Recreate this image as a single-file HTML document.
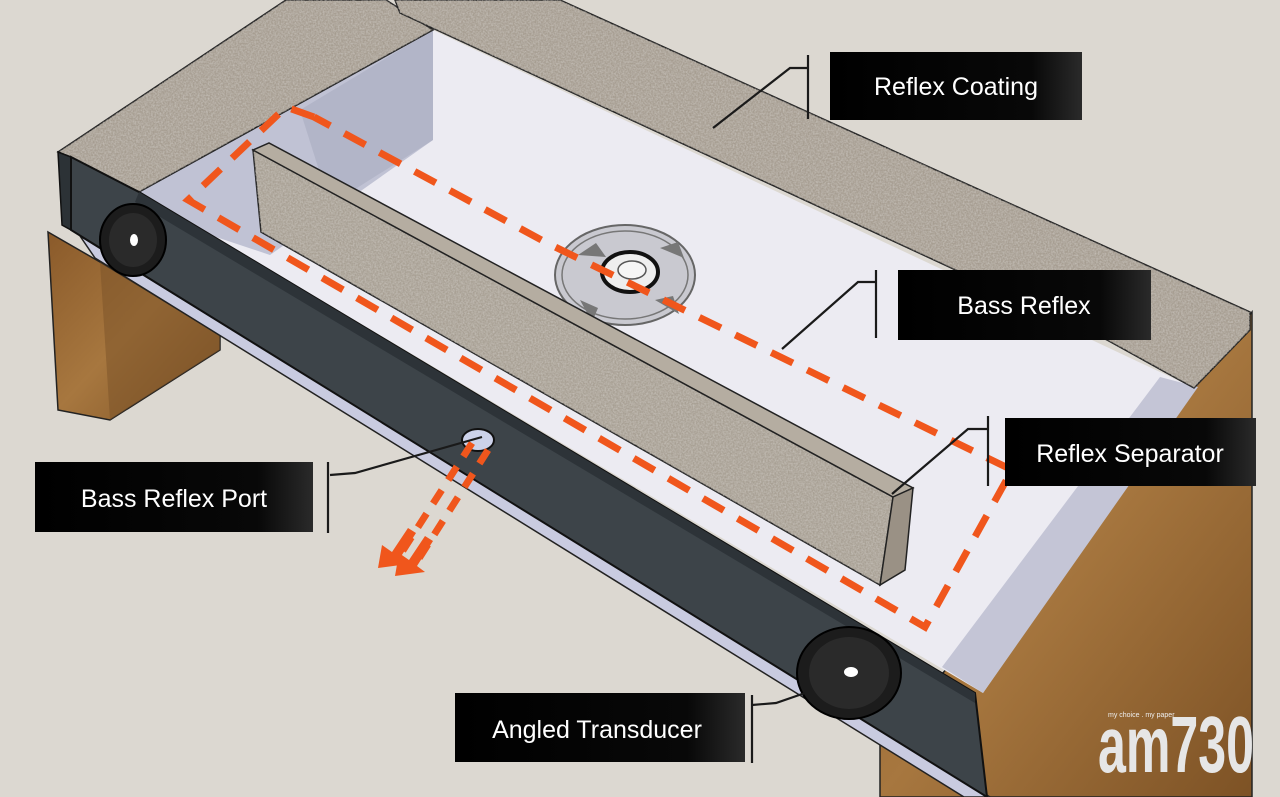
<!DOCTYPE html>
<html><head><meta charset="utf-8"><style>
html,body{margin:0;padding:0;background:#dcd8d1;}
svg{display:block}
text{font-family:"Liberation Sans",sans-serif}
</style></head><body>
<svg width="1280" height="797" viewBox="0 0 1280 797" xmlns="http://www.w3.org/2000/svg">
<defs>
<filter id="gr" x="0" y="0" width="100%" height="100%">
<feTurbulence type="fractalNoise" baseFrequency="0.6" numOctaves="2" seed="3"/>
<feColorMatrix type="matrix" values="0 0 0 0 0.62  0 0 0 0 0.59  0 0 0 0 0.55  0 0 0 1.2 -0.35"/>
<feComposite in2="SourceGraphic" operator="in"/>
</filter>
<linearGradient id="wood" x1="0" y1="0" x2="1" y2="1">
<stop offset="0" stop-color="#8a5a2a"/><stop offset="0.5" stop-color="#a7773f"/><stop offset="1" stop-color="#7d5225"/>
</linearGradient>
<linearGradient id="lbl" x1="0" y1="0" x2="1" y2="0">
<stop offset="0" stop-color="#000"/><stop offset="0.8" stop-color="#080808"/><stop offset="1" stop-color="#2a2a2a"/>
</linearGradient>
</defs>
<rect width="1280" height="797" fill="#dcd8d1"/>

<!-- left leg -->
<polygon points="48,232 100,262 220,335 220,350 110,420 58,410" fill="url(#wood)" stroke="#222" stroke-width="1.5"/>
<polygon points="100,262 220,335 220,350 110,420" fill="#7a5227" opacity="0.5"/>
<!-- right leg -->
<polygon points="1190,390 1252,312 1252,797 880,797 880,745" fill="url(#wood)" stroke="#222" stroke-width="1.5"/>

<!-- lavender strip under panel -->
<polygon points="80,236 990,797 964,797 95,258" fill="#c9cbe0" stroke="#222" stroke-width="1.5"/>

<!-- floor -->
<polygon points="139,192 433,30 1194,388 983,693" fill="#ecebf2"/>
<!-- left inner wall -->
<polygon points="139,192 433,30 433,140 270,255 180,225" fill="#c0c2d4"/>
<polygon points="300,110 433,30 433,140 330,205" fill="#a9abbf" opacity="0.6"/>
<!-- right inner wall -->
<polygon points="1160,377 1198,387 983,693 942,667" fill="#c4c5d6"/>

<!-- left granite -->
<polygon points="58,152 286,0 386,0 433,30 139,192 71,157" fill="#a69d91" stroke="#222" stroke-width="1.5"/>
<polygon points="58,152 286,0 386,0 433,30 139,192 71,157" filter="url(#gr)" fill="#000"/>
<!-- rear granite -->
<polygon points="395,0 560,0 1250,312 1250,330 1194,388 1107,340 400,13" fill="#a69d91" stroke="#222" stroke-width="1.5"/>
<polygon points="395,0 560,0 1250,312 1250,330 1194,388 1107,340 400,13" filter="url(#gr)" fill="#000"/>

<!-- center speaker -->
<ellipse cx="625" cy="275" rx="70" ry="50" fill="#c9c9d0" stroke="#666" stroke-width="2"/>
<ellipse cx="625" cy="275" rx="63" ry="44" fill="none" stroke="#777" stroke-width="1.5"/>
<ellipse cx="630" cy="272" rx="28" ry="20" fill="#eee" stroke="#111" stroke-width="4"/>
<ellipse cx="632" cy="270" rx="14" ry="9" fill="#f5f5f5" stroke="#555" stroke-width="1.5"/>
<path d="M578,255 l18,-12 l10,14 z M660,248 l18,-6 l6,16 z M580,300 l18,8 l-6,14 z M655,300 l18,-4 l6,18 z" fill="#777"/>

<!-- separator -->
<polygon points="253,150 893,497 880,585 261,232" fill="#a8a094" stroke="#222" stroke-width="1.5"/>
<polygon points="253,150 893,497 880,585 261,232" filter="url(#gr)" fill="#000"/>
<polygon points="253,150 269,143 913,488 893,497" fill="#b5ada1" stroke="#222" stroke-width="1.5"/>
<polygon points="893,497 913,488 905,570 880,585" fill="#9a9185" stroke="#222" stroke-width="1.5"/>

<!-- dark front panel -->
<polygon points="58,152 71,157 71,230 62,225" fill="#2c3236" stroke="#111" stroke-width="1.5"/>
<polygon points="71,157 139,192 975,693 987,797 71,230" fill="#3d4449" stroke="#111" stroke-width="2"/>
<polygon points="139,192 975,693 975,703 135,202" fill="#2d3338"/>
<!-- left speaker -->
<ellipse cx="133" cy="240" rx="33" ry="36" fill="#1c1c1c" stroke="#000" stroke-width="2"/>
<ellipse cx="133" cy="240" rx="24" ry="27" fill="#2a2a2a"/>
<ellipse cx="134" cy="240" rx="4" ry="6" fill="#fff"/>
<!-- right speaker -->
<ellipse cx="849" cy="673" rx="52" ry="46" fill="#1c1c1c" stroke="#000" stroke-width="2"/>
<ellipse cx="849" cy="673" rx="40" ry="36" fill="#2a2a2a"/>
<ellipse cx="851" cy="672" rx="7" ry="5" fill="#fff"/>
<!-- port -->
<ellipse cx="478" cy="440" rx="16" ry="11" fill="#ccd2ea" stroke="#111" stroke-width="2"/>

<!-- dashed orange path -->
<polyline points="314,117 286,107 188,200 925,627 1012,470 547,243 314,117" fill="none" stroke="#f0561c" stroke-width="7" stroke-dasharray="24 16"/>
<!-- port arrows -->
<g stroke="#f0561c" stroke-width="7" stroke-dasharray="16 12" fill="none">
<line x1="472" y1="443" x2="400" y2="555"/>
<line x1="488" y1="450" x2="418" y2="560"/>
</g>
<polygon points="378,568 382,545 392,552 408,528 416,533 400,558 408,564" fill="#f0561c"/>
<polygon points="395,576 399,553 409,560 425,536 433,541 417,566 425,572" fill="#f0561c"/>

<!-- leaders -->
<g stroke="#1a1a1a" stroke-width="2.2" fill="none">
<line x1="808" y1="55" x2="808" y2="119"/><polyline points="808,68 790,68 713,128"/>
<line x1="876" y1="270" x2="876" y2="338"/><polyline points="876,282 858,282 782,349"/>
<line x1="988" y1="416" x2="988" y2="486"/><polyline points="988,429 968,429 892,494"/>
<line x1="328" y1="462" x2="328" y2="533"/><polyline points="330,475 355,473 482,437"/>
<line x1="752" y1="695" x2="752" y2="763"/><polyline points="752,705 776,703 805,693"/>
</g>

<!-- labels -->
<rect x="830" y="52" width="252" height="68" fill="url(#lbl)"/>
<text x="956" y="95" fill="#fff" font-size="25" text-anchor="middle">Reflex Coating</text>
<rect x="898" y="270" width="253" height="70" fill="url(#lbl)"/>
<text x="1024" y="314" fill="#fff" font-size="25" text-anchor="middle">Bass Reflex</text>
<rect x="1005" y="418" width="251" height="68" fill="url(#lbl)"/>
<text x="1130" y="462" fill="#fff" font-size="25" text-anchor="middle">Reflex Separator</text>
<rect x="35" y="462" width="278" height="70" fill="url(#lbl)"/>
<text x="174" y="507" fill="#fff" font-size="25" text-anchor="middle">Bass Reflex Port</text>
<rect x="455" y="693" width="290" height="69" fill="url(#lbl)"/>
<text x="597" y="738" fill="#fff" font-size="25" text-anchor="middle">Angled Transducer</text>

<!-- logo -->
<text x="1108" y="717" fill="#eee" font-size="7">my choice . my paper</text>
<text x="1098" y="772" fill="#e6e6e6" font-size="80" font-weight="bold" textLength="156" lengthAdjust="spacingAndGlyphs">am730</text>
</svg>
</body></html>
